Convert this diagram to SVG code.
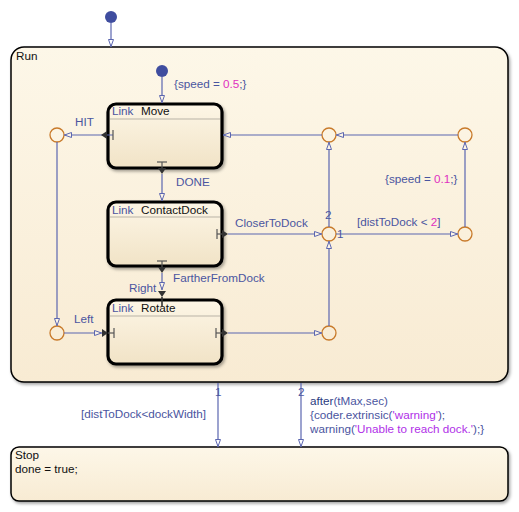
<svg xmlns="http://www.w3.org/2000/svg" width="519" height="512" viewBox="0 0 519 512">
<defs>
<linearGradient id="gRun" x1="0" y1="0" x2="0" y2="1"><stop offset="0" stop-color="#fdf7e8"/><stop offset="1" stop-color="#f8ebd3"/></linearGradient>
<linearGradient id="gSt" x1="0" y1="0" x2="0" y2="1"><stop offset="0" stop-color="#fdf6e6"/><stop offset="1" stop-color="#f1e3c6"/></linearGradient>
<filter id="sh" x="-5%" y="-5%" width="110%" height="115%"><feDropShadow dx="1.5" dy="2" stdDeviation="1.5" flood-color="#000" flood-opacity="0.35"/></filter>
<marker id="oa" viewBox="0 0 8 6" refX="8" refY="3" markerWidth="8" markerHeight="6" markerUnits="userSpaceOnUse" orient="auto"><path d="M0.5,0.5 L7.5,3 L0.5,5.5 Z" fill="#fdf6e8" stroke="#5b66b0" stroke-width="1"/></marker>
<marker id="ow" viewBox="0 0 8 6" refX="8" refY="3" markerWidth="8" markerHeight="6" markerUnits="userSpaceOnUse" orient="auto"><path d="M0.5,0.5 L7.5,3 L0.5,5.5 Z" fill="#fff" stroke="#5b66b0" stroke-width="1"/></marker>
</defs>
<style>
text{font-family:"Liberation Sans",Arial,sans-serif;font-size:11.7px}
.t{fill:#4a55a0}
.k{fill:#111}
.n{fill:#e030c0}
.p{fill:#b030e8}
.nv{fill:#2a3a80}
.e{fill:none;stroke:#5b66b0;stroke-width:1.2}
.j{fill:none;stroke:#c87a2a;stroke-width:1.3}
.st{fill:url(#gSt);stroke:#000;stroke-width:3.2}
.hd{stroke:#b9b3a6;stroke-width:1}
.dk{fill:#333}
.bar{stroke:#555;stroke-width:1.2}
.dot{fill:#3f4d9f}
</style>

<g id="Run">
<rect x="11" y="47" width="497" height="335" rx="13" fill="url(#gRun)" stroke="#000" stroke-width="1.5" filter="url(#sh)"/>
<text x="16" y="60" class="k">Run</text>
</g>

<g id="Stop">
<rect x="11" y="447" width="497" height="54" rx="8" fill="url(#gRun)" stroke="#000" stroke-width="1.5" filter="url(#sh)"/>
<text x="15" y="459" class="k">Stop</text>
<text x="15" y="473" class="k">done = true;</text>
</g>

<g id="Move">
<rect x="108" y="104" width="114" height="64" rx="8" class="st" filter="url(#sh)"/>
<line x1="110" y1="119" x2="220" y2="119" class="hd"/>
<text x="112" y="115" class="t">Link</text>
<text x="141" y="115" class="k">Move</text>
</g>

<g id="ContactDock">
<rect x="108" y="202" width="114" height="64" rx="8" class="st" filter="url(#sh)"/>
<line x1="110" y1="217" x2="220" y2="217" class="hd"/>
<text x="112" y="214" class="t">Link</text>
<text x="141" y="214" class="k">ContactDock</text>
</g>

<g id="Rotate">
<rect x="108" y="300" width="114" height="64" rx="8" class="st" filter="url(#sh)"/>
<line x1="110" y1="316" x2="220" y2="316" class="hd"/>
<text x="112" y="312" class="t">Link</text>
<text x="141" y="312" class="k">Rotate</text>
</g>

<g id="junctions">
<circle id="jHit" cx="57" cy="135" r="7" class="j"/>
<circle id="jLeft" cx="57" cy="333" r="7" class="j"/>
<circle id="jTop" cx="329" cy="135" r="7" class="j"/>
<circle id="jTopR" cx="465" cy="135" r="7" class="j"/>
<circle id="jMid" cx="329" cy="234" r="7" class="j"/>
<circle id="jMidR" cx="465" cy="234" r="7" class="j"/>
<circle id="jBot" cx="329" cy="333" r="7" class="j"/>
</g>

<g id="connectors">
<circle cx="111" cy="17" r="6" class="dot"/>
<line x1="111" y1="23" x2="111" y2="47" class="e" marker-end="url(#ow)"/>
<circle cx="162" cy="71" r="6" class="dot"/>
<line x1="162" y1="77" x2="162" y2="103" class="e" marker-end="url(#oa)"/>

<!-- HIT -->
<line x1="113" y1="135" x2="64" y2="135" class="e" marker-end="url(#oa)"/>
<line x1="113" y1="130" x2="113" y2="140" class="bar"/>
<path d="M107,131 L101,135 L107,139 Z" class="dk"/>
<line x1="57" y1="142" x2="57" y2="326" class="e" marker-end="url(#oa)"/>

<!-- Left -->
<line x1="64" y1="333" x2="102" y2="333" class="e" marker-end="url(#oa)"/>
<path d="M102,329 L108,333 L102,337 Z" class="dk"/>
<line x1="108" y1="333" x2="114" y2="333" class="bar"/>
<line x1="114" y1="328" x2="114" y2="338" class="bar"/>

<!-- into Move right -->
<line x1="322" y1="135" x2="223" y2="135" class="e" marker-end="url(#oa)"/>

<!-- DONE -->
<line x1="157" y1="162" x2="167" y2="162" class="bar"/>
<line x1="162" y1="162" x2="162" y2="168" class="bar"/>
<path d="M158,168 L162,174 L166,168 Z" class="dk"/>
<line x1="162" y1="174" x2="162" y2="201" class="e" marker-end="url(#oa)"/>

<!-- CloserToDock -->
<line x1="217" y1="229" x2="217" y2="239" class="bar"/>
<line x1="217" y1="234" x2="222" y2="234" class="bar"/>
<path d="M222,230 L228,234 L222,238 Z" class="dk"/>
<line x1="228" y1="234" x2="322" y2="234" class="e" marker-end="url(#oa)"/>

<!-- FartherFromDock -->
<line x1="157" y1="261" x2="167" y2="261" class="bar"/>
<line x1="162" y1="261" x2="162" y2="267" class="bar"/>
<path d="M158,267 L162,273 L166,267 Z" class="dk"/>
<line x1="162" y1="273" x2="162" y2="290" class="e" marker-end="url(#oa)"/>
<path d="M158,291 L162,297 L166,291 Z" class="dk"/>
<line x1="162" y1="297" x2="162" y2="306" stroke="#333" stroke-width="1.6"/>

<!-- Rotate right exit -->
<line x1="216" y1="328" x2="216" y2="338" class="bar"/>
<line x1="216" y1="333" x2="222" y2="333" class="bar"/>
<path d="M222,329 L228,333 L222,337 Z" class="dk"/>
<line x1="228" y1="333" x2="322" y2="333" class="e" marker-end="url(#oa)"/>

<!-- junction network -->
<line x1="329" y1="326" x2="329" y2="241" class="e" marker-end="url(#oa)"/>
<line x1="329" y1="227" x2="329" y2="142" class="e" marker-end="url(#oa)"/>
<line x1="336" y1="234" x2="458" y2="234" class="e" marker-end="url(#oa)"/>
<line x1="465" y1="227" x2="465" y2="142" class="e" marker-end="url(#oa)"/>
<line x1="458" y1="135" x2="336" y2="135" class="e" marker-end="url(#oa)"/>

<!-- Run to Stop -->
<line x1="218" y1="383" x2="218" y2="447" class="e" marker-end="url(#ow)"/>
<line x1="301" y1="383" x2="301" y2="447" class="e" marker-end="url(#ow)"/>
</g>

<g id="labels">
<text x="174" y="88" class="t">{speed = <tspan class="n">0.5</tspan>;}</text>
<text x="75" y="126" class="t">HIT</text>
<text x="176" y="186" class="t">DONE</text>
<text x="235" y="227" class="t">CloserToDock</text>
<text x="173" y="282" class="t">FartherFromDock</text>
<text x="129" y="292" class="t">Right</text>
<text x="74" y="323" class="t">Left</text>
<text x="325" y="219" class="t">2</text>
<text x="337" y="238" class="t">1</text>
<text x="357" y="226" class="t">[distToDock &lt; <tspan class="n">2</tspan>]</text>
<text x="385" y="183" class="t">{speed = <tspan class="n">0.1</tspan>;}</text>
<text x="215" y="396" class="t">1</text>
<text x="298" y="396" class="t">2</text>
<text x="81" y="418" class="t">[distToDock&lt;dockWidth]</text>
<text x="310" y="405" class="t"><tspan class="nv">after</tspan>(tMax,sec)</text>
<text x="310" y="419" class="t">{coder.extrinsic(<tspan class="p">'warning'</tspan>);</text>
<text x="310" y="433" class="t">warning(<tspan class="p">'Unable to reach dock.'</tspan>);}</text>
</g>
</svg>
